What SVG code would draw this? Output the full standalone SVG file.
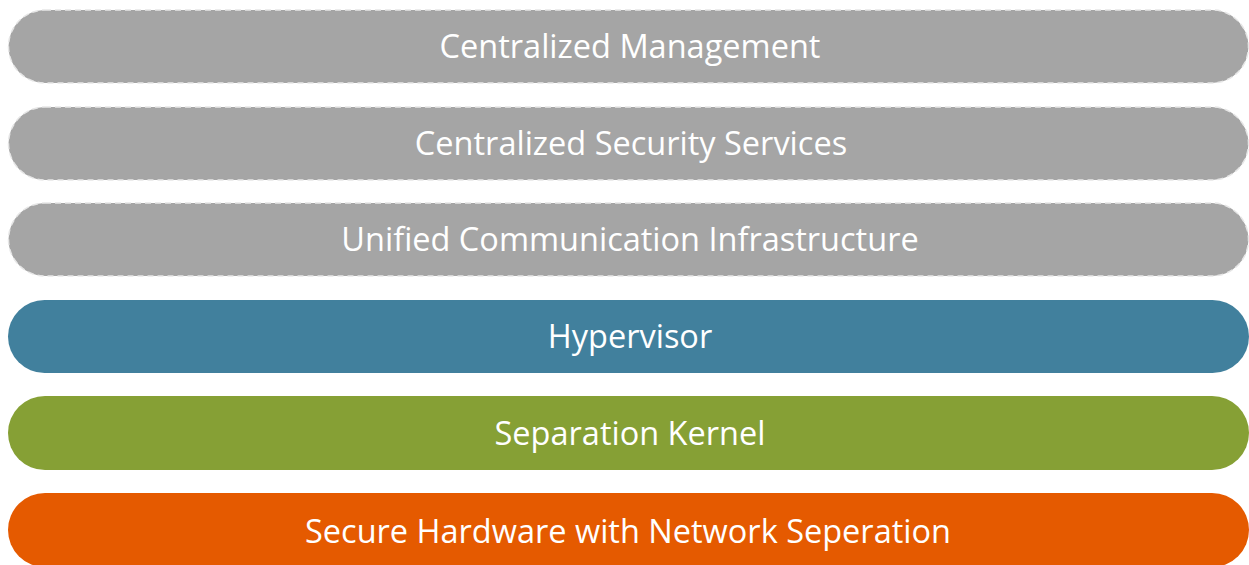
<svg xmlns="http://www.w3.org/2000/svg" width="1249" height="565" viewBox="0 0 1249 565">
<style>
.gray{fill:#A5A5A5;stroke:#E6E6E6;stroke-width:1.5;stroke-dasharray:6 4}
.blue{fill:#41809D}
.green{fill:#86A035}
.orange{fill:#E55A00}
text{font-family:"Open Sans","DejaVu Sans",sans-serif;font-size:32.5px;fill:#FFFFFF;text-anchor:middle}
</style>
<rect width="1249" height="565" fill="#FFFFFF"/>
<g id="centralized-management"><rect class="gray" x="8.5" y="10" width="1240" height="73" rx="36.5"/><text x="630" y="58">Centralized Management</text></g>
<g id="centralized-security-services"><rect class="gray" x="8.5" y="107" width="1240" height="73" rx="36.5"/><text x="631" y="155">Centralized Security Services</text></g>
<g id="unified-communication-infrastructure"><rect class="gray" x="8.5" y="203" width="1240" height="73" rx="36.5"/><text x="630" y="251">Unified Communication Infrastructure</text></g>
<g id="hypervisor"><rect class="blue" x="8" y="300" width="1241" height="73" rx="36.5"/><text x="630" y="348">Hypervisor</text></g>
<g id="separation-kernel"><rect class="green" x="8" y="396" width="1241" height="74" rx="37"/><text x="630" y="445">Separation Kernel</text></g>
<g id="secure-hardware"><rect class="orange" x="8" y="493" width="1241" height="74" rx="37"/><text x="628" y="543">Secure Hardware with Network Seperation</text></g>
<g id="connectors"/>
</svg>
